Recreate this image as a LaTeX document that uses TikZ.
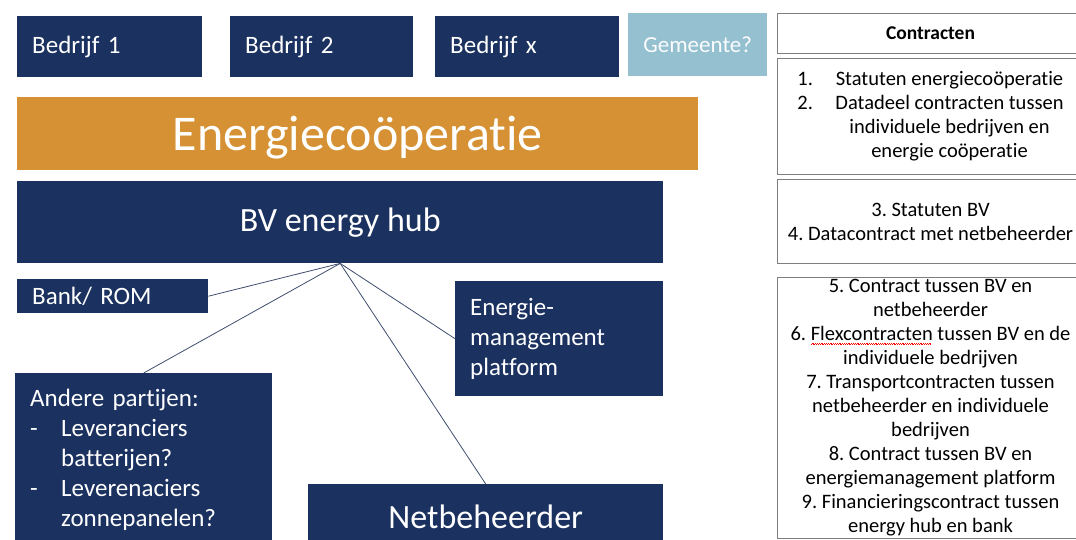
\documentclass[tikz,border=0pt]{standalone}
\usepackage{fontspec}
\setmainfont{Carlito}[Ligatures=NoCommon]
\usepackage{tikz}
\usetikzlibrary{backgrounds}
\frenchspacing
\definecolor{hubblauw}{HTML}{1B3160}
\definecolor{cooporanje}{HTML}{D59133}
\definecolor{gemblauw}{HTML}{94C0D0}
\definecolor{lijngrijs}{HTML}{7F7F7F}
\definecolor{verbinding}{HTML}{3F4D6E}
\newcommand{\spelfout}[1]{\setbox0\hbox{#1}\rlap{\textcolor{red}{\hbox to \wd0{\leaders\hbox{\rule[-3.4pt]{0.9pt}{0.45pt}\rule[-2.7pt]{0.9pt}{0.45pt}}\hfill}}}\box0\relax}
\tikzstyle{partij}=[anchor=north west, fill=hubblauw, text=white, inner xsep=15pt, inner ysep=0pt, align=left, font=\fontsize{25}{30}\selectfont]
\tikzstyle{groot}=[partij, align=center, font=\fontsize{34}{40}\selectfont]
\tikzstyle{coop}=[groot, fill=cooporanje, text height=43pt, font=\fontsize{50}{56}\selectfont]
\tikzstyle{gemeente}=[partij, fill=gemblauw, text=white!96!gemblauw, align=center, font=\fontsize{23}{26}\selectfont]
\tikzstyle{contract}=[anchor=north west, draw=lijngrijs, line width=1pt, fill=white, inner xsep=2pt, inner ysep=2pt, minimum width=306pt, align=center, font=\fontsize{20.5}{24}\selectfont]
\tikzstyle{kop}=[contract, font=\fontsize{19.5}{22}\selectfont\bfseries]
\tikzstyle{lijn}=[-, draw=verbinding, line width=0.8pt]
\newcommand{\rechtsX}{777}

\begin{document}
\begin{tikzpicture}[x=1pt, y=-1pt]
\useasboundingbox (0,0) rectangle (1076,540);
\clip (0,0) rectangle (1076,540);

%The companies on top
\draw (17,16) node[partij, text width=155pt, minimum height=61pt] (b1) {Bedrijf 1};
\draw (230,16) node[partij, text width=153pt, minimum height=61pt] (b2) {Bedrijf 2};
\draw (435,16) node[partij, text width=154pt, minimum height=61pt] (bx) {Bedrijf x};
\draw (628,13) node[gemeente, minimum width=139pt, minimum height=63pt] (gem) {Gemeente?};

\draw (17,97) node[coop, minimum width=681pt, minimum height=73pt] (coop) {Energiecoöperatie};
\draw (17,181) node[groot, minimum width=646pt, minimum height=82pt] (hub) {BV energy hub};

%The parties round the hub
\draw (17,279) node[partij, text width=161pt, minimum height=34pt] (bank) {Bank/ ROM};
\draw (455,281) node[partij, text width=178pt, minimum height=115pt] (emp) {Energie-\\management\\platform};
\draw (15,373) node[partij, text width=227pt, inner ysep=12pt] (andere) {\begin{tabular}{@{}p{31pt}@{}l@{}}
\multicolumn{2}{@{}l@{}}{Andere partijen:}\\
-&Leveranciers\\ &batterijen?\\
-&Leverenaciers\\ &zonnepanelen?
\end{tabular}};
\draw (308,484) node[groot, minimum width=355pt, minimum height=66pt] (net) {Netbeheerder};

\draw[lijn] (hub.south) -- (bank.east);
\draw[lijn] (hub.south) -- (andere.north);
\draw[lijn] (hub.south) -- (emp.west);
\draw[lijn] (hub.south) -- (net.north);

%The contracts column
\draw (\rechtsX,13) node[kop, minimum height=40pt] (kop) {Contracten};
\draw (\rechtsX,58) node[contract, minimum height=116pt] (c12) {\begin{tabular}{@{}p{38pt}@{}c@{}}
1.&Statuten energiecoöperatie\\
2.&Datadeel contracten tussen\\
&individuele bedrijven en\\
&energie coöperatie
\end{tabular}};
\draw (\rechtsX,179) node[contract, minimum height=84pt] (c34) {3. Statuten BV\\4. Datacontract met netbeheerder};
\draw (\rechtsX,277) node[contract, minimum height=261pt] (c59) {5. Contract tussen BV en\\netbeheerder\\6. \spelfout{Flexcontracten} tussen BV en de\\individuele bedrijven\\7. Transportcontracten tussen\\netbeheerder en individuele\\bedrijven\\8. Contract tussen BV en\\energiemanagement platform\\9. Financieringscontract tussen\\energy hub en bank};
\end{tikzpicture}
\end{document}
